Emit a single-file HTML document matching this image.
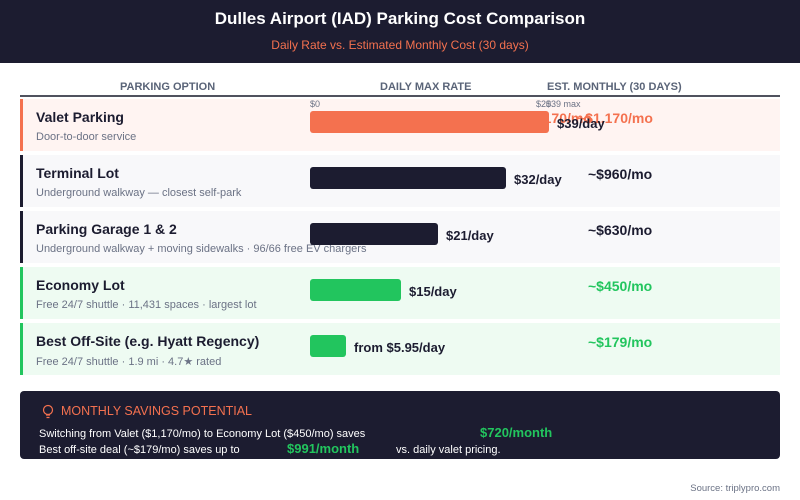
<!DOCTYPE html><html><head><style>
body{margin:0;width:800px;height:500px;background:#fff;font-family:"Liberation Sans",sans-serif;position:relative;overflow:hidden}
.a{position:absolute;white-space:nowrap}
.row{position:absolute;left:20px;width:757px;height:52px;border-left:3px solid}
.t{position:absolute;left:13px;top:10px;font-size:14px;font-weight:bold;color:#1c1c30}
.s{position:absolute;left:13px;top:32px;font-size:11px;color:#6b7285}
.bar{position:absolute;left:310px;height:22px;border-radius:3px}
.d{font-size:13px;font-weight:bold;color:#1c1c30}
.m{font-size:14px;font-weight:bold}
</style></head><body>
<div class="a" style="left:0;top:0;width:800px;height:63px;background:#1c1c30"></div>
<div class="a" style="left:0;width:800px;top:9px;text-align:center;color:#fff;font-size:17px;font-weight:bold">Dulles Airport (IAD) Parking Cost Comparison</div>
<div class="a" style="left:0;width:800px;top:38px;text-align:center;color:#f4714f;font-size:12px">Daily Rate vs. Estimated Monthly Cost (30 days)</div>
<div class="a" style="left:120px;top:81px;font-size:11px;font-weight:bold;color:#5a6478">PARKING OPTION</div>
<div class="a" style="left:380px;top:81px;font-size:11px;font-weight:bold;color:#5a6478">DAILY MAX RATE</div>
<div class="a" style="left:547px;top:81px;font-size:11px;font-weight:bold;color:#5a6478">EST. MONTHLY (30 DAYS)</div>
<div class="a" style="left:20px;top:95px;width:760px;height:2px;background:#50525e"></div>

<div class="row" style="top:99px;background:#fff4f2;border-color:#f4714f"><div class="t">Valet Parking</div><div class="s">Door-to-door service</div></div>
<div class="row" style="top:155px;background:#f8f8fa;border-color:#1c1c30"><div class="t">Terminal Lot</div><div class="s">Underground walkway — closest self-park</div></div>
<div class="row" style="top:211px;background:#f8f8fa;border-color:#1c1c30"><div class="t">Parking Garage 1 &amp; 2</div><div class="s">Underground walkway + moving sidewalks · 96/66 free EV chargers</div></div>
<div class="row" style="top:267px;background:#eefbf2;border-color:#22c55e"><div class="t">Economy Lot</div><div class="s">Free 24/7 shuttle · 11,431 spaces · largest lot</div></div>
<div class="row" style="top:323px;background:#eefbf2;border-color:#22c55e"><div class="t">Best Off-Site (e.g. Hyatt Regency)</div><div class="s">Free 24/7 shuttle · 1.9 mi · 4.7★ rated</div></div>

<div class="a" style="left:310px;top:99px;font-size:9px;color:#6b7285">$0</div>
<div class="a" style="left:536px;top:99px;font-size:9px;color:#6b7285">$20</div>
<div class="a" style="left:546px;top:99px;font-size:9px;color:#6b7285">$39 max</div>
<div class="a m" style="left:516px;top:110px;color:#f4714f">~$1,170/mo</div>
<div class="a m" style="left:577px;top:110px;color:#f4714f">~$1,170/mo</div>
<div class="bar" style="top:111px;width:239px;background:#f4714f"></div>
<div class="a d" style="left:557px;top:116px">$39/day</div>

<div class="bar" style="top:167px;width:196px;background:#1c1c30"></div>
<div class="a d" style="left:514px;top:172px">$32/day</div>
<div class="a m" style="left:588px;top:166px;color:#1c1c30">~$960/mo</div>

<div class="bar" style="top:223px;width:128px;background:#1c1c30"></div>
<div class="a d" style="left:446px;top:228px">$21/day</div>
<div class="a m" style="left:588px;top:222px;color:#1c1c30">~$630/mo</div>

<div class="bar" style="top:279px;width:91px;background:#22c55e"></div>
<div class="a d" style="left:409px;top:284px">$15/day</div>
<div class="a m" style="left:588px;top:278px;color:#22c55e">~$450/mo</div>

<div class="bar" style="top:335px;width:36px;background:#22c55e"></div>
<div class="a d" style="left:354px;top:340px">from $5.95/day</div>
<div class="a m" style="left:588px;top:334px;color:#22c55e">~$179/mo</div>

<div class="a" style="left:20px;top:391px;width:760px;height:68px;background:#1c1c30;border-radius:4px"></div>
<svg class="a" style="left:42px;top:404px" width="12" height="16"><circle cx="6" cy="6" r="4.5" fill="none" stroke="#f4714f" stroke-width="1.2"/><path d="M4 11h4M4.5 13.5h3" stroke="#f4714f" stroke-width="1.2"/></svg>
<div class="a" style="left:61px;top:404px;font-size:12.5px;color:#f4714f">MONTHLY SAVINGS POTENTIAL</div>
<div class="a" style="left:39px;top:428px;font-size:11px;color:#fff">Switching from Valet ($1,170/mo) to Economy Lot ($450/mo) saves</div>
<div class="a" style="left:480px;top:425px;font-size:13px;font-weight:bold;color:#22c55e">$720/month</div>
<div class="a" style="left:39px;top:444px;font-size:11px;color:#fff">Best off-site deal (~$179/mo) saves up to</div>
<div class="a" style="left:287px;top:441px;font-size:13px;font-weight:bold;color:#22c55e">$991/month</div>
<div class="a" style="left:396px;top:444px;font-size:11px;color:#fff">vs. daily valet pricing.</div>
<div class="a" style="right:20px;top:483px;font-size:9.5px;color:#6b7285">Source: triplypro.com</div>
</body></html>
